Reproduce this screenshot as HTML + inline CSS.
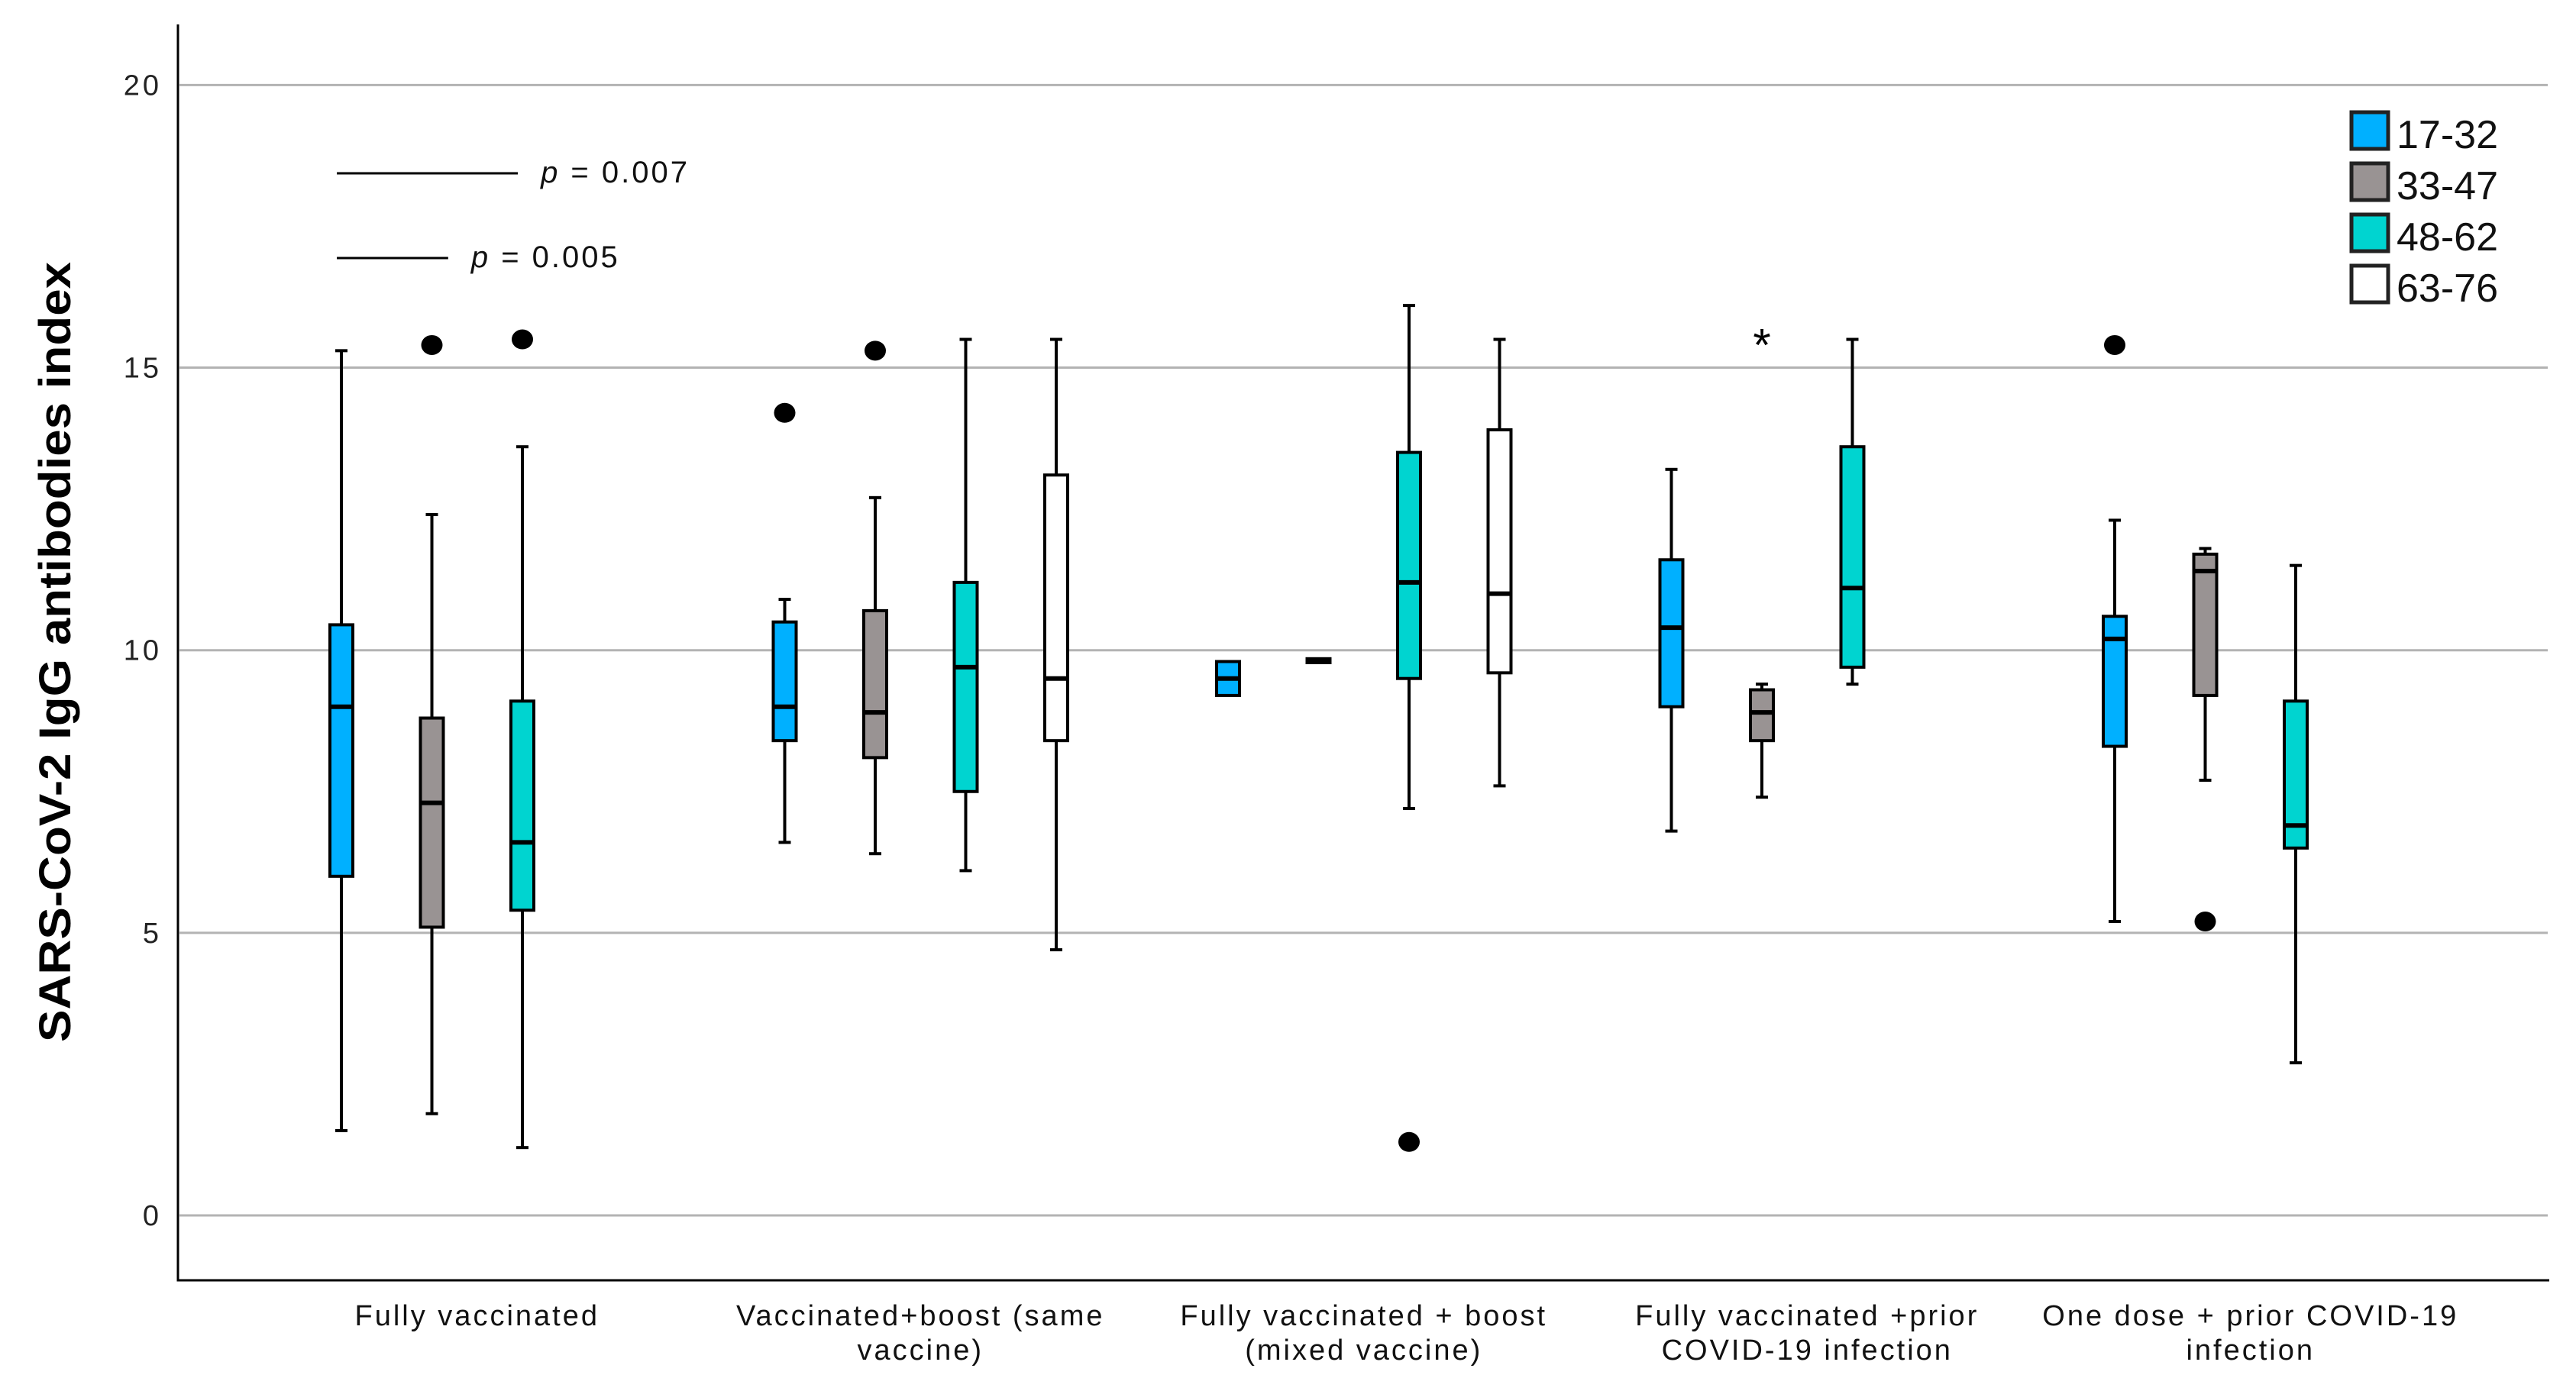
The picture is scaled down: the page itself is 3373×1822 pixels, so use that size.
<!DOCTYPE html>
<html><head><meta charset="utf-8"><style>
html,body{margin:0;padding:0;background:#fff;}
svg{display:block;font-family:"Liberation Sans",Arial,sans-serif;}
</style></head><body>
<svg id="chart" width="3373" height="1822" viewBox="0 0 3373 1822" xmlns="http://www.w3.org/2000/svg"></svg>
<script>
const categories = [["Fully vaccinated"],["Vaccinated+boost (same","vaccine)"],["Fully vaccinated + boost","(mixed vaccine)"],["Fully vaccinated +prior","COVID-19 infection"],["One dose + prior COVID-19","infection"]];
const seriesNames = ["17-32","33-47","48-62","63-76"];
const yTicks = [0,5,10,15,20];
// each entry: [group, series, whiskerLow, q1, median, q3, whiskerHigh]
const boxStats = [
 [0,0,1.5,6.0,9.0,10.45,15.3],
 [0,1,1.8,5.1,7.3,8.8,12.4],
 [0,2,1.2,5.4,6.6,9.1,13.6],
 [1,0,6.6,8.4,9.0,10.5,10.9],
 [1,1,6.4,8.1,8.9,10.7,12.7],
 [1,2,6.1,7.5,9.7,11.2,15.5],
 [1,3,4.7,8.4,9.5,13.1,15.5],
 [2,0,9.2,9.2,9.5,9.8,9.8],
 [2,1,9.78,9.78,9.82,9.85,9.85],
 [2,2,7.2,9.5,11.2,13.5,16.1],
 [2,3,7.6,9.6,11.0,13.9,15.5],
 [3,0,6.8,9.0,10.4,11.6,13.2],
 [3,1,7.4,8.4,8.9,9.3,9.4],
 [3,2,9.4,9.7,11.1,13.6,15.5],
 [4,0,5.2,8.3,10.2,10.6,12.3],
 [4,1,7.7,9.2,11.4,11.7,11.8],
 [4,2,2.7,6.5,6.9,9.1,11.5]
];
// outliers: [group, series, value]
const outliers = [[0,1,15.4],[0,2,15.5],[1,0,14.2],[1,1,15.3],[2,2,1.3],[4,0,15.4],[4,1,5.2]];
const extremes = [[3,1,15.5]];
// p-value bracket extents in series-slot units within first group
const pValues = [{label:"0.007", from:-0.05, to:1.95},{label:"0.005", from:-0.05, to:1.18}];

const colors = ["#00b0ff","#999393","#00d4d0","#ffffff"];
const svg = document.getElementById('chart');
const NS = "http://www.w3.org/2000/svg";
function yS(v){ return 1592 - 74.03*v; }
function xS(g,s){ return 447 + g*580.5 + s*118.5; }
function mk(tag, attrs, parent){ const e=document.createElementNS(NS,tag); for(const k in attrs) e.setAttribute(k,attrs[k]); (parent||svg).appendChild(e); return e; }

// grid
yTicks.forEach(t=>{
  const l = mk('line',{x1:235,x2:3336,y1:yS(t),y2:yS(t),stroke:'#b3b3b3','stroke-width':3});
  
  
  const tx = mk('text',{x:212,y:yS(t)+13,'text-anchor':'end','font-size':38,fill:'#222','letter-spacing':4});
  tx.textContent = t;
  
  
});
// axes
const ax = mk('path',{d:'M233,32 L233,1677 L3338,1677',fill:'none',stroke:'#000','stroke-width':3});



// y title
const yt = mk('text',{x:0,y:0,transform:'translate(92,854) rotate(-90)','text-anchor':'middle','font-size':58,'font-weight':'bold',textLength:1022,lengthAdjust:'spacingAndGlyphs'});
yt.textContent = 'SARS-CoV-2 IgG antibodies index';



// category labels
categories.forEach((lines,g)=>{
  const cx = xS(g,1.5);
  lines.forEach((ln,i)=>{
    const t = mk('text',{x:cx,y:1736+i*45,'text-anchor':'middle','font-size':38,fill:'#111','letter-spacing':3});
    t.textContent = ln;
    
    
  });
});

// boxes
const bw = 30, cw = 16;
boxStats.forEach(b=>{
  const [g,s,lo,q1,med,q3,hi] = b;
  const cx = xS(g,s);
  const grp = mk('g',{});
  
  
  if(hi>q3){ mk('line',{x1:cx,x2:cx,y1:yS(hi),y2:yS(q3),stroke:'#000','stroke-width':4},grp); mk('line',{x1:cx-cw/2,x2:cx+cw/2,y1:yS(hi),y2:yS(hi),stroke:'#000','stroke-width':4},grp); }
  if(lo<q1){ mk('line',{x1:cx,x2:cx,y1:yS(q1),y2:yS(lo),stroke:'#000','stroke-width':4},grp); mk('line',{x1:cx-cw/2,x2:cx+cw/2,y1:yS(lo),y2:yS(lo),stroke:'#000','stroke-width':4},grp); }
  mk('rect',{x:cx-bw/2,y:yS(q3),width:bw,height:Math.max(1,yS(q1)-yS(q3)),fill:colors[s],stroke:'#000','stroke-width':4},grp);
  mk('line',{x1:cx-bw/2,x2:cx+bw/2,y1:yS(med),y2:yS(med),stroke:'#000','stroke-width':6},grp);
});
outliers.forEach(o=>{
  const c = mk('ellipse',{cx:xS(o[0],o[1]),cy:yS(o[2]),rx:14,ry:13,fill:'#000'});
  
  
});
extremes.forEach(o=>{
  const t = mk('text',{x:xS(o[0],o[1]),y:yS(o[2])+28,'text-anchor':'middle','font-size':60});
  t.textContent='*';
  
  
});

// p-value annotations
pValues.forEach((p,i)=>{
  const y = 227 + i*111;
  const x1 = xS(0,p.from), x2 = xS(0,p.to);
  const l = mk('line',{x1:x1,x2:x2,y1:y,y2:y,stroke:'#000','stroke-width':3});
  
  
  const t = mk('text',{x:x2+30,y:y+12,'font-size':40,fill:'#111','letter-spacing':3});
  t.innerHTML = '<tspan font-style="italic">p</tspan> = '+p.label;
  
  
});

// legend
seriesNames.forEach((n,i)=>{
  const y = 147 + i*67;
  const r = mk('rect',{x:3079,y:y,width:48,height:48,fill:colors[i],stroke:'#222','stroke-width':5});
  
  
  const t = mk('text',{x:3138,y:y+47,'font-size':52,fill:'#111'});
  t.textContent = n;
  
  
});
</script>
</body></html>
